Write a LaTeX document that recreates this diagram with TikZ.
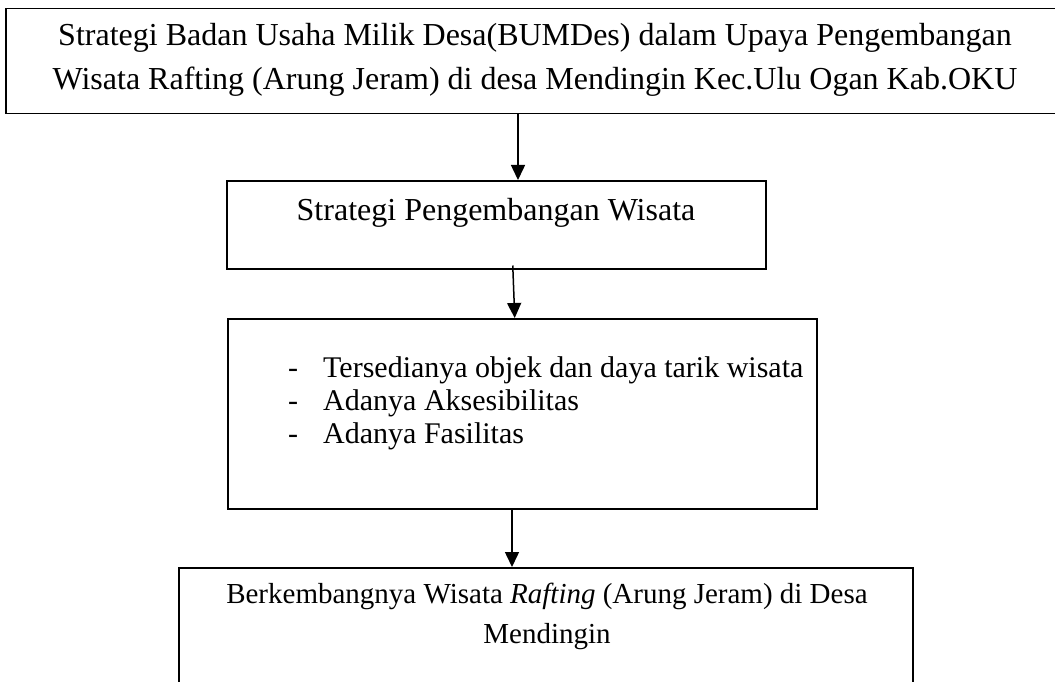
\documentclass[tikz,border=0pt]{standalone}
\usepackage{fontspec}
\setmainfont{Liberation Serif}
\usetikzlibrary{arrows.meta}
\begin{document}
\begin{tikzpicture}[x=1pt,y=-1pt,
  box/.style={draw, line width=1.5pt, inner sep=0pt, anchor=north west},
  tA/.style={inner sep=0pt, font=\fontsize{32}{38}\selectfont},
  tB/.style={inner sep=0pt, font=\fontsize{30}{36}\selectfont},
  tC/.style={inner sep=0pt, font=\fontsize{29}{35}\selectfont},
  arr/.style={line width=1.5pt, -{Triangle[length=15pt,width=14pt]}}]
\useasboundingbox (0,0) rectangle (1055,682);
\clip (0,0) rectangle (1055,682);
\fill[white] (0,0) rectangle (1055,682);
% boxes
\node[box, minimum width=1070pt, minimum height=105pt] (top) at (5,8) {};
\node[box, minimum width=539pt, minimum height=88pt] (box2) at (226,180) {};
\node[box, minimum width=589pt, minimum height=190pt] (box3) at (227,318) {};
\node[box, minimum width=734pt, minimum height=150pt] (box4) at (178,567) {};
% texts
\node[tA, anchor=base] (t1) at (535,46) {Strategi Badan Usaha Milik Desa(BUMDes) dalam Upaya Pengembangan};
\node[tA, anchor=base] (t2) at (535,90) {Wisata Rafting (Arung Jeram) di desa Mendingin Kec.Ulu Ogan Kab.OKU};
\node[tA, anchor=base] (t3) at (496,220) {Strategi Pengembangan Wisata};
\node[tB, anchor=base west] (d1) at (288,377) {-};
\node[tB, anchor=base west] (d2) at (288,410) {-};
\node[tB, anchor=base west] (d3) at (288,443) {-};
\node[tB, anchor=base west] (b1) at (323,377) {Tersedianya objek dan daya tarik wisata};
\node[tB, anchor=base west] (b2) at (323,410) {Adanya Aksesibilitas};
\node[tB, anchor=base west] (b3) at (323,443) {Adanya Fasilitas};
\node[tC, anchor=base] (t4) at (547,603) {Berkembangnya Wisata \textit{Rafting} (Arung Jeram) di Desa};
\node[tC, anchor=base] (t5) at (547,643) {Mendingin};
% arrows
\coordinate (x1) at (518,0);
\coordinate (x3) at (512,0);
\draw[arr] (top.south -| x1) -- (box2.north -| x1);
\draw[arr] ([shift={(16.5,-4)}]box2.south) -- ([xshift=-7.5pt]box3.north);
\draw[arr] (box3.south -| x3) -- (box4.north -| x3);
\end{tikzpicture}
\end{document}
